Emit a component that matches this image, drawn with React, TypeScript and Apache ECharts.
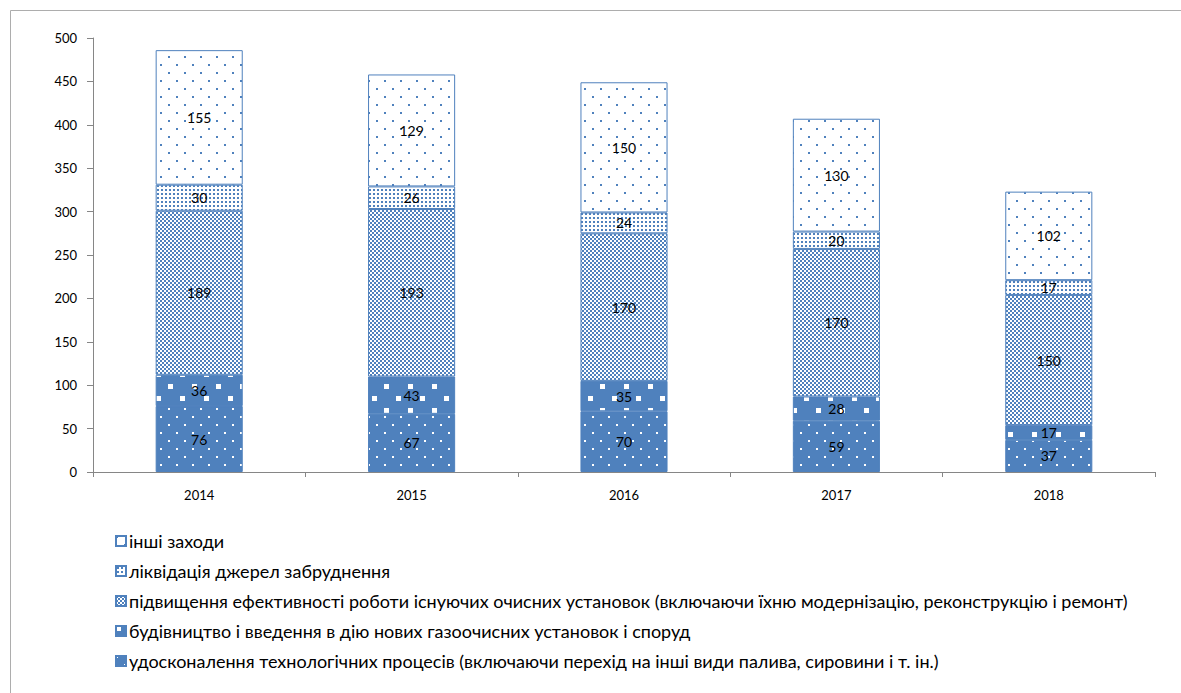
import React, { useEffect, useRef } from "react";
import * as echarts from "echarts";

const years = ["2014", "2015", "2016", "2017", "2018"];
const seriesNames = [
  "удосконалення технологічних процесів (включаючи перехід на інші види палива, сировини і т. ін.)",
  "будівництво і введення в дію нових газоочисних установок і споруд",
  "підвищення ефективності роботи існуючих очисних установок (включаючи їхню модернізацію, реконструкцію і ремонт)",
  "ліквідація джерел забруднення",
  "інші заходи",
];
const technology = [76, 67, 70, 59, 37];
const construction = [36, 43, 35, 28, 17];
const efficiency = [189, 193, 170, 170, 150];
const liquidation = [30, 26, 24, 20, 17];
const other = [155, 129, 150, 130, 102];
const yTicks = { min: 0, max: 500, interval: 50 };

const BLUE = "#4F81BD";
const FONT = "Lato, 'Open Sans', sans-serif";

function makePattern(w: number, h: number, bg: string, fg: string, rects: number[][]) {
  const c = document.createElement("canvas");
  c.width = w;
  c.height = h;
  const ctx = c.getContext("2d")!;
  ctx.fillStyle = bg;
  ctx.fillRect(0, 0, w, h);
  ctx.fillStyle = fg;
  rects.forEach(([x, y, rw, rh]) => ctx.fillRect(x, y, rw, rh));
  return { image: c, repeat: "repeat" } as any;
}

export default function App() {
  const ref = useRef<HTMLDivElement>(null);
  useEffect(() => {
    if (!ref.current) return;
    const chart = echarts.init(ref.current, undefined, { renderer: "svg" });
    const patterns = [
      makePattern(16, 16, BLUE, "#FFFFFF", [[0, 0, 2, 2], [8, 8, 2, 2]]),
      makePattern(24, 24, BLUE, "#FFFFFF", [[0, 0, 5, 5], [12, 12, 5, 5]]),
      makePattern(4, 4, "#FFFFFF", BLUE, [[0, 0, 2, 2], [2, 2, 2, 2]]),
      makePattern(4, 4, "#FFFFFF", BLUE, [[1, 1, 2, 2]]),
      makePattern(16, 16, "#FFFFFF", BLUE, [[0, 0, 2, 2], [8, 8, 2, 2]]),
    ];
    const datasets = [technology, construction, efficiency, liquidation, other];
    const series = datasets.map((d, i) => ({
      name: seriesNames[i],
      type: "bar",
      stack: "total",
      data: d,
      barCategoryGap: "59%",
      itemStyle: { color: patterns[i], borderColor: BLUE, borderWidth: 1 },
      label: {
        show: true,
        position: "inside",
        color: "#000",
        fontSize: 14,
        fontFamily: FONT,
      },
      emphasis: { disabled: true },
    }));
    chart.setOption({
      animation: false,
      grid: { left: 93, right: 26, top: 38, bottom: 221 },
      graphic: [
        {
          type: "rect",
          left: 8,
          top: 8,
          shape: { width: 1400, height: 900 },
          style: { fill: "none", stroke: "#ADADAD", lineWidth: 1 },
          silent: true,
        },
      ],
      xAxis: {
        type: "category",
        data: years,
        axisLine: { lineStyle: { color: "#868686" } },
        axisTick: { show: true, length: 5, alignWithLabel: false, lineStyle: { color: "#868686" } },
        axisLabel: { color: "#000", fontSize: 13, fontFamily: FONT, margin: 16 },
      },
      yAxis: {
        type: "value",
        min: yTicks.min,
        max: yTicks.max,
        interval: yTicks.interval,
        axisLine: { show: true, lineStyle: { color: "#868686" } },
        axisTick: { show: true, length: 6, lineStyle: { color: "#868686" } },
        splitLine: { show: false },
        axisLabel: { color: "#000", fontSize: 13, fontFamily: FONT, margin: 16 },
      },
      legend: {
        orient: "vertical",
        left: 110,
        top: 527,
        itemWidth: 10,
        itemHeight: 10,
        itemGap: 12,
        icon: "rect",
        data: [...seriesNames].reverse(),
        textStyle: { color: "#000", fontSize: 18, fontFamily: FONT, padding: [0, 0, 0, -2] },
        selectedMode: false,
      },
      series,
    });
    return () => chart.dispose();
  }, []);
  return (
    <div
      ref={ref}
      style={{ position: "absolute", left: 0, top: 0, width: 1181, height: 693, background: "#fff" }}
    />
  );
}
